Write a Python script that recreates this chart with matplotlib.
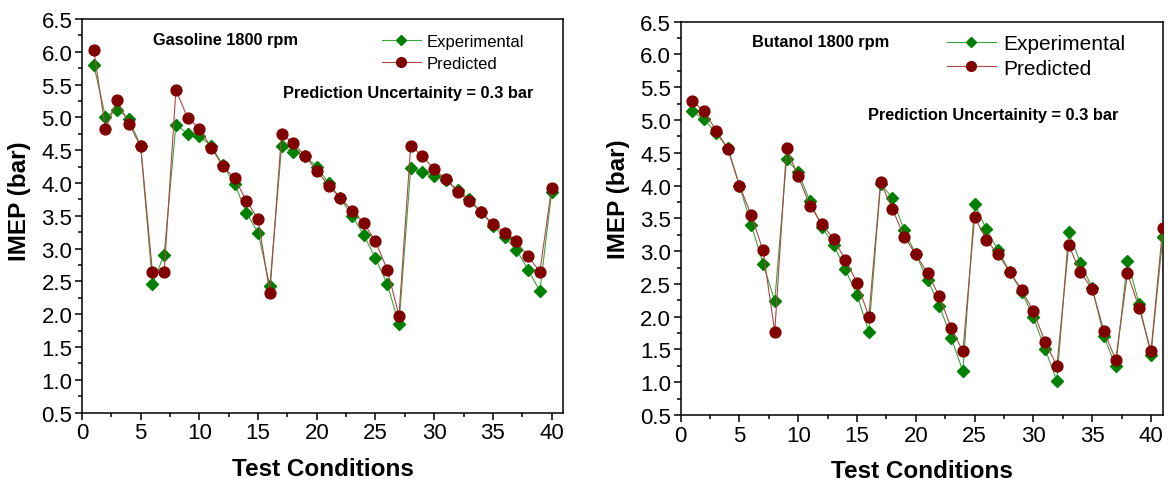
#!/usr/bin/env python3

import numpy as np
import matplotlib
matplotlib.use('Agg')
import matplotlib.pyplot as plt
from matplotlib.ticker import MultipleLocator, FormatStrFormatter


# Gasoline 1800 rpm, test conditions 1..40
gasoline_exp = [5.80, 5.01, 5.12, 4.98, 4.56, 2.46, 2.91, 4.89, 4.75, 4.71,
                4.57, 4.27, 3.99, 3.55, 3.24, 2.43, 4.56, 4.48, 4.41, 4.25,
                4.00, 3.77, 3.50, 3.21, 2.85, 2.46, 1.85, 4.23, 4.16, 4.10,
                4.04, 3.90, 3.75, 3.56, 3.35, 3.17, 2.98, 2.68, 2.35, 3.86]
gasoline_pred = [6.03, 4.82, 5.26, 4.90, 4.56, 2.64, 2.64, 5.42, 4.99, 4.83,
                 4.54, 4.26, 4.07, 3.73, 3.45, 2.32, 4.75, 4.61, 4.41, 4.19,
                 3.96, 3.77, 3.58, 3.39, 3.11, 2.68, 1.98, 4.57, 4.41, 4.21,
                 4.06, 3.87, 3.72, 3.56, 3.37, 3.24, 3.11, 2.88, 2.65, 3.92]

# Butanol 1800 rpm, test conditions 1..41
butanol_exp = [5.13, 5.01, 4.80, 4.58, 4.00, 3.40, 2.81, 2.24, 4.40, 4.20,
               3.76, 3.37, 3.10, 2.72, 2.33, 1.77, 4.03, 3.81, 3.32, 2.95,
               2.56, 2.17, 1.68, 1.17, 3.72, 3.33, 3.01, 2.68, 2.38, 1.99,
               1.50, 1.02, 3.29, 2.82, 2.44, 1.70, 1.24, 2.85, 2.19, 1.42, 3.22]
butanol_pred = [5.29, 5.13, 4.84, 4.56, 4.00, 3.55, 3.01, 1.77, 4.57, 4.14,
                3.69, 3.42, 3.18, 2.87, 2.52, 2.00, 4.05, 3.65, 3.22, 2.95,
                2.66, 2.31, 1.83, 1.47, 3.52, 3.17, 2.95, 2.68, 2.41, 2.08,
                1.61, 1.25, 3.09, 2.68, 2.42, 1.78, 1.34, 2.66, 2.13, 1.47, 3.36]

titles = ['Gasoline 1800 rpm', 'Butanol 1800 rpm']
note = 'Prediction Uncertainity = 0.3 bar'


if __name__ == "__main__":

    plt.rcParams['font.family'] = ['Liberation Sans', 'DejaVu Sans']
    fig = plt.figure(figsize=(11.68, 4.85), dpi=100, facecolor='w')

    panels = [
        # axes rect, data, legend anchor, legend font, labelspacing, note x, note y, ylabel y
        ([0.0702, 0.1472, 0.4121, 0.8116], gasoline_exp, gasoline_pred,
         (0.3268, 0.9275), 12, 0.4, 0.418, 0.801, 0.54),
        ([0.5828, 0.1423, 0.4127, 0.8109], butanol_exp, butanol_pred,
         (0.8105, 0.9275), 15, 0.27, 0.389, 0.753, 0.55),
    ]

    for i, (rect, exp, pred, anchor, lfs, lsp, nx, ny, ly) in enumerate(panels):
        ax = fig.add_axes(rect)
        x = np.arange(1, len(exp) + 1)

        ax.plot(x, exp, color='#3aa53a', linewidth=0.8, marker='D',
                markersize=6.2, markerfacecolor='#008000',
                markeredgecolor='#008000', label='Experimental', zorder=3)
        ax.plot(x, pred, color='#b04545', linewidth=0.8, marker='o',
                markersize=7.8, markerfacecolor='#800000',
                markeredgecolor='#800000', label='Predicted', zorder=4)

        ax.set_xlim(0, 41)
        ax.set_ylim(0.5, 6.5)
        ax.xaxis.set_major_locator(MultipleLocator(5))
        ax.xaxis.set_minor_locator(MultipleLocator(2.5))
        ax.yaxis.set_major_locator(MultipleLocator(0.5))
        ax.yaxis.set_minor_locator(MultipleLocator(0.25))
        ax.yaxis.set_major_formatter(FormatStrFormatter('%.1f'))
        ax.tick_params(which='major', direction='out', length=5, width=1.1,
                       labelsize=16, pad=2)
        ax.tick_params(which='minor', direction='out', length=3, width=1.1)
        for s in ax.spines.values():
            s.set_linewidth(1.1)

        ax.set_xlabel('Test Conditions', fontsize=17.5, fontweight='bold',
                      va='center')
        ax.set_ylabel('IMEP (bar)', fontsize=17.5, fontweight='bold',
                      va='center')
        ax.xaxis.set_label_coords(0.5, -0.141)
        ax.yaxis.set_label_coords(-0.129, ly)

        ax.text(0.148, 0.937, titles[i], transform=ax.transAxes, fontsize=11.8,
                fontweight='bold', ha='left', va='baseline')
        ax.text(nx, ny, note, transform=ax.transAxes, fontsize=11.8,
                fontweight='bold', ha='left', va='baseline')

        ax.legend(loc='upper left', bbox_to_anchor=anchor,
                  bbox_transform=fig.transFigure, frameon=False, fontsize=lfs,
                  borderpad=0, borderaxespad=0, handlelength=2.35,
                  handletextpad=0.35, labelspacing=lsp, markerscale=0.9)

    plt.savefig('out.png', dpi=100)
